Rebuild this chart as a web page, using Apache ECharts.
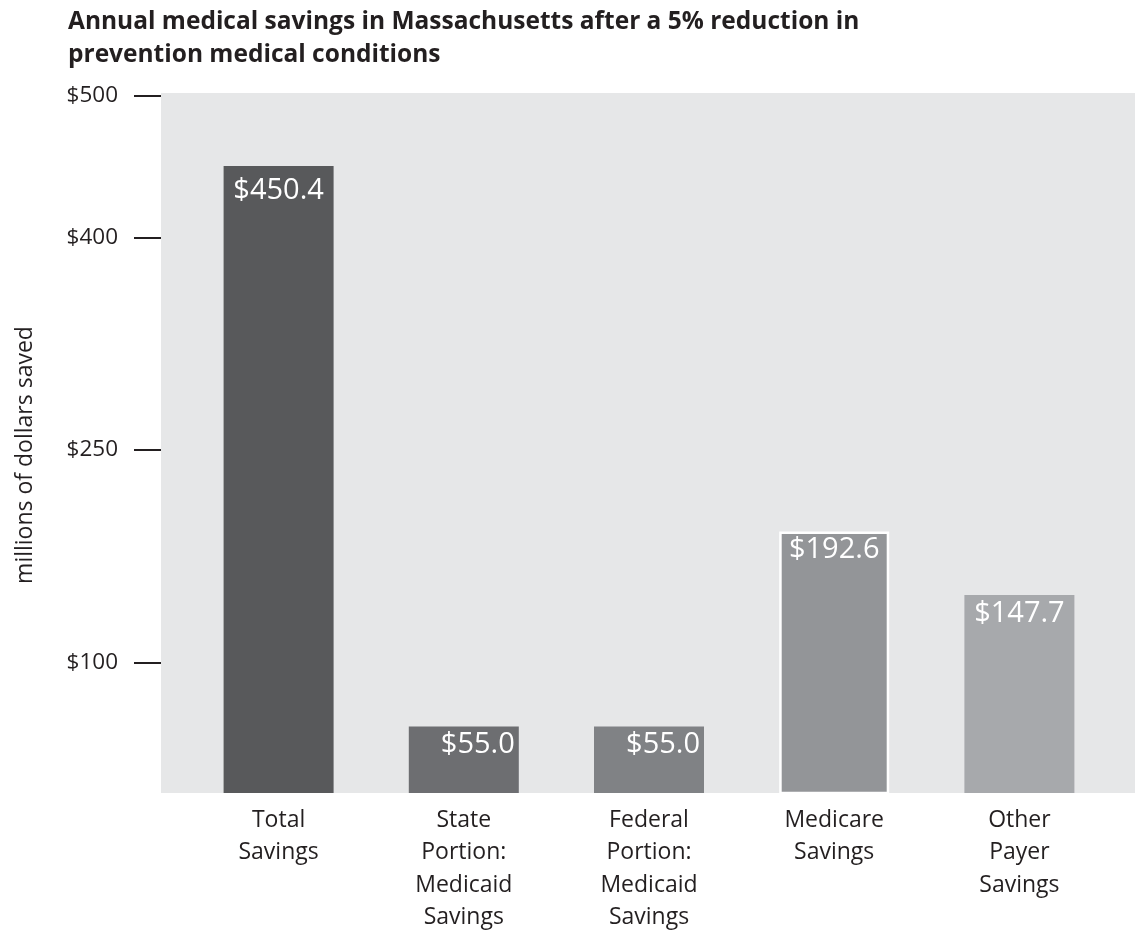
<!DOCTYPE html>
<html>
<head>
<meta charset="utf-8">
<script src="https://cdn.jsdelivr.net/npm/echarts@6/dist/echarts.min.js"></script>
<style>
  html, body { margin: 0; padding: 0; background: #fff; }
  #chart { width: 1140px; height: 935px; }
</style>
</head>
<body>
<div id="chart"></div>
<script>
const titleLines = [
  "Annual medical savings in Massachusetts after a 5% reduction in",
  "prevention medical conditions",
];
const categories = [
  "Total\nSavings",
  "State\nPortion:\nMedicaid\nSavings",
  "Federal\nPortion:\nMedicaid\nSavings",
  "Medicare\nSavings",
  "Other\nPayer\nSavings",
];
const savings = [450.4, 55.0, 55.0, 192.6, 147.7];
const yTicks = [100, 250, 400, 500];
const yName = "millions of dollars saved";

const barColors = ["#58595b", "#6d6e71", "#808285", "#939598", "#a7a9ac"];
const font = "'Open Sans', 'Noto Sans', sans-serif";
const ink = "#231f20";

const chart = echarts.init(document.getElementById("chart"));

chart.setOption({
  backgroundColor: "#ffffff",
  animation: false,
  title: {
    text: titleLines.join("\n"),
    left: 63,
    top: 1,
    textStyle: {
      fontFamily: font,
      fontSize: 24.5,
      fontWeight: "bold",
      lineHeight: 33,
      color: ink,
    },
  },
  grid: [
    // grey panel behind the bars
    {
      left: 161,
      right: 5,
      top: 93,
      bottom: 142,
      outerBoundsMode: "none",
      show: true,
      backgroundColor: "#e6e7e8",
      borderWidth: 0,
    },
    // data grid
    {
      left: 186,
      right: 28,
      top: 93,
      bottom: 142,
      outerBoundsMode: "none",
    },
  ],
  xAxis: [
    { gridIndex: 0, type: "value", show: false },
    {
      gridIndex: 1,
      type: "category",
      data: categories,
      axisLine: { show: false },
      axisTick: { show: false },
      axisLabel: {
        margin: 11,
        fontFamily: font,
        fontSize: 23,
        lineHeight: 32.5,
        color: ink,
      },
    },
  ],
  yAxis: [
    { gridIndex: 0, type: "value", show: false },
    {
      gridIndex: 1,
      type: "value",
      min: 8,
      max: 502,
      offset: 25,
      splitLine: { show: false },
      axisLine: { show: false },
      axisTick: {
        show: true,
        length: 27,
        customValues: yTicks,
        lineStyle: { color: ink, width: 2 },
      },
      axisLabel: {
        margin: 43,
        customValues: yTicks,
        fontFamily: font,
        fontSize: 22.5,
        color: ink,
        formatter: (v) => "$" + v,
      },
      name: yName,
      nameLocation: "middle",
      nameRotate: 90,
      nameGap: 124,
      nameTextStyle: {
        fontFamily: font,
        fontSize: 23,
        color: ink,
        padding: [0, 24, 0, 0],
      },
    },
  ],
  series: [
    {
      type: "bar",
      xAxisIndex: 1,
      yAxisIndex: 1,
      barWidth: 110,
      data: savings.map((v, i) => ({
        value: v,
        itemStyle: {
          color: barColors[i],
          borderColor: i === 3 ? "#ffffff" : barColors[i],
          borderWidth: i === 3 ? 2.5 : 0,
        },
        label: {
          position: i === 1 || i === 2 ? "insideTopRight" : "insideTop",
          distance: i === 0 ? 10 : 4,
        },
      })),
      label: {
        show: true,
        fontFamily: font,
        fontSize: 29,
        color: "#ffffff",
        formatter: (p) => "$" + p.value.toFixed(1),
      },
    },
  ],
});
</script>
</body>
</html>
